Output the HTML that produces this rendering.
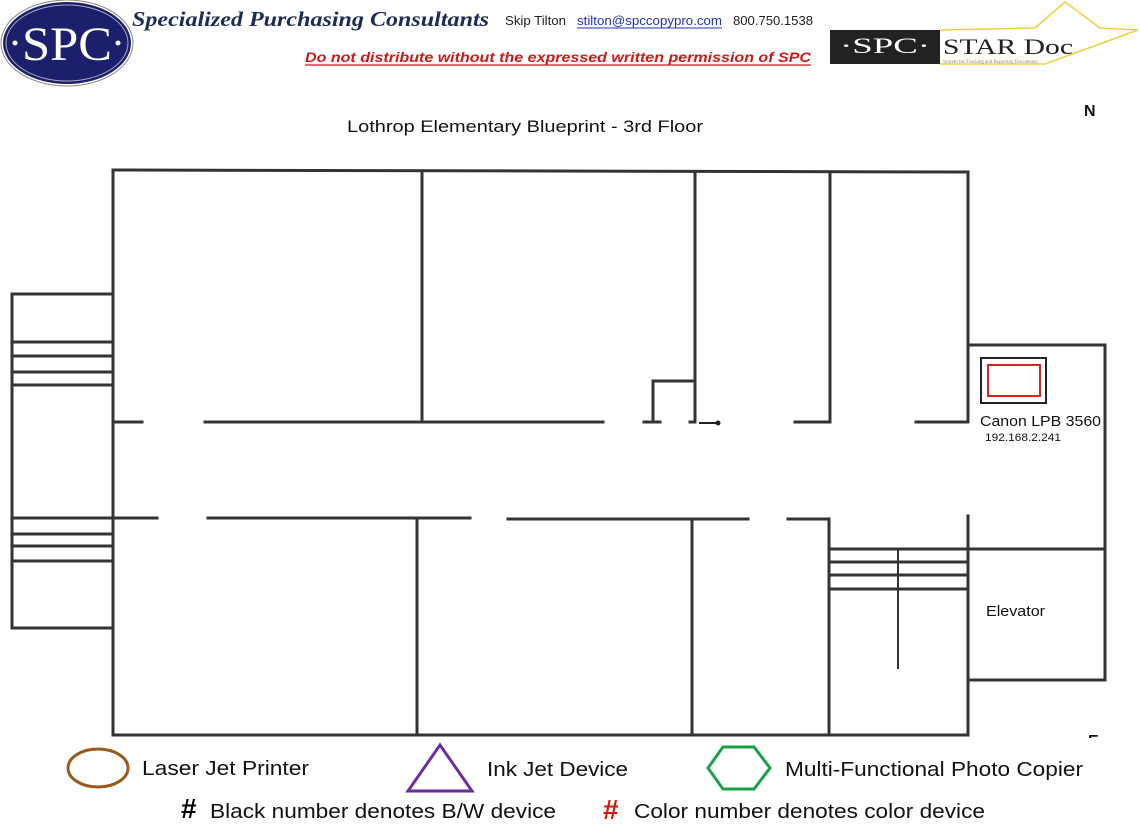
<!DOCTYPE html>
<html><head><meta charset="utf-8"><style>
html,body{margin:0;padding:0;background:#fff;}
body{width:1140px;height:828px;overflow:hidden;position:relative;font-family:"Liberation Sans",sans-serif;}
svg{position:absolute;left:0;top:0;}
</style></head><body>
<svg width="1140" height="828" viewBox="0 0 1140 828" xmlns="http://www.w3.org/2000/svg">
<defs><clipPath id="ec"><rect x="1080" y="720" width="40" height="18"/></clipPath></defs>
<ellipse cx="67" cy="43" rx="66" ry="43" fill="#fff" stroke="#888" stroke-width="1"/>
<ellipse cx="67" cy="43" rx="64" ry="41" fill="#1c1f6b"/>
<ellipse cx="67" cy="43" rx="61" ry="38" fill="none" stroke="#aab" stroke-width="1"/>
<text x="67" y="60" text-anchor="middle" font-family="Liberation Serif" font-size="48" fill="#fff" textLength="90" lengthAdjust="spacingAndGlyphs">SPC</text>
<circle cx="15" cy="43" r="2.5" fill="#fff"/><circle cx="118" cy="43" r="2.5" fill="#fff"/>
<text x="132" y="26" font-family="Liberation Serif" font-style="italic" font-weight="bold" font-size="21" fill="#1f2b55" textLength="357" lengthAdjust="spacingAndGlyphs">Specialized Purchasing Consultants</text>
<text x="505" y="25" font-size="13" fill="#222" textLength="61" lengthAdjust="spacingAndGlyphs">Skip Tilton</text>
<text x="577" y="25" font-size="13" fill="#2233bb" textLength="145" lengthAdjust="spacingAndGlyphs">stilton@spccopypro.com</text>
<line x1="577" y1="28" x2="722" y2="28" stroke="#2233bb" stroke-width="1"/>
<text x="733" y="25" font-size="13" fill="#222" textLength="80" lengthAdjust="spacingAndGlyphs">800.750.1538</text>
<text x="305" y="62" font-size="14" font-weight="bold" font-style="italic" fill="#d01818" textLength="506" lengthAdjust="spacingAndGlyphs">Do not distribute without the expressed written permission of SPC</text>
<line x1="305" y1="65" x2="811" y2="65" stroke="#d01818" stroke-width="1.2"/>
<polyline points="940,30 1035,28 1065,2 1100,28 1138,30 1045,64 940,64" fill="none" stroke="#f0d040" stroke-width="1.5"/>
<rect x="830" y="30" width="110" height="34" fill="#222"/>
<text x="885" y="53" text-anchor="middle" font-family="Liberation Serif" font-size="22" fill="#fff" textLength="90" lengthAdjust="spacingAndGlyphs">·SPC·</text>
<text x="943" y="54" font-family="Liberation Serif" font-size="22" fill="#222" textLength="130" lengthAdjust="spacingAndGlyphs">STAR Doc</text>
<text x="943" y="63" font-family="Liberation Serif" font-size="5" fill="#888">System for Tracking and Reporting Documents</text>

<text x="347" y="132" font-size="17" fill="#111" textLength="356" lengthAdjust="spacingAndGlyphs">Lothrop Elementary Blueprint - 3rd Floor</text>
<text x="1084" y="116" font-size="16" font-weight="bold" fill="#111">N</text>
<text x="1088" y="746" font-size="16" font-weight="bold" fill="#111" clip-path="url(#ec)">E</text>

<g stroke="#333" stroke-width="3" fill="none" stroke-linecap="square">
<polyline points="113,735 113,170 968,172 968,422"/>
<line x1="968" y1="516" x2="968" y2="735"/>
<line x1="113" y1="735" x2="968" y2="735"/>
<line x1="422" y1="172" x2="422" y2="422"/>
<line x1="695" y1="172" x2="695" y2="422"/>
<line x1="830" y1="172" x2="830" y2="422"/>
<line x1="113" y1="422" x2="142" y2="422"/>
<line x1="205" y1="422" x2="603" y2="422"/>
<line x1="644" y1="422" x2="660" y2="422"/>
<line x1="690" y1="422" x2="695" y2="422"/>
<line x1="795" y1="422" x2="830" y2="422"/>
<line x1="916" y1="422" x2="968" y2="422"/>
<polyline points="653,422 653,381 695,381"/>
<line x1="113" y1="518" x2="157" y2="518"/>
<line x1="208" y1="518" x2="470" y2="518"/>
<line x1="508" y1="519" x2="748" y2="519"/>
<polyline points="788,519 829,519 829,735"/>
<line x1="417" y1="518" x2="417" y2="735"/>
<line x1="692" y1="519" x2="692" y2="735"/>
<polyline points="113,294 12,294 12,628 113,628"/>
<line x1="12" y1="342" x2="113" y2="342"/>
<line x1="12" y1="356" x2="113" y2="356"/>
<line x1="12" y1="372" x2="113" y2="372"/>
<line x1="12" y1="385" x2="113" y2="385"/>
<line x1="12" y1="518" x2="113" y2="518"/>
<line x1="12" y1="534" x2="113" y2="534"/>
<line x1="12" y1="546" x2="113" y2="546"/>
<line x1="12" y1="561" x2="113" y2="561"/>
<line x1="830" y1="549" x2="968" y2="549"/>
<line x1="830" y1="562" x2="968" y2="562"/>
<line x1="830" y1="575" x2="968" y2="575"/>
<line x1="830" y1="589" x2="968" y2="589"/>
<line x1="898" y1="550" x2="898" y2="668" stroke-width="2"/>
<polyline points="968,345 1105,345 1105,680 968,680"/>
<line x1="968" y1="549" x2="1105" y2="549"/>
</g>
<line x1="699" y1="423" x2="717" y2="423" stroke="#222" stroke-width="2"/>
<circle cx="718" cy="423" r="2.5" fill="#222"/>
<rect x="981" y="358" width="65" height="45" fill="none" stroke="#222" stroke-width="2"/>
<rect x="988" y="365" width="52" height="31" fill="none" stroke="#e02020" stroke-width="2"/>
<text x="980" y="426" font-size="15" fill="#111" textLength="121" lengthAdjust="spacingAndGlyphs">Canon LPB 3560</text>
<text x="985" y="441" font-size="11" fill="#111" textLength="76" lengthAdjust="spacingAndGlyphs">192.168.2.241</text>
<text x="986" y="616" font-size="15" fill="#111" textLength="59" lengthAdjust="spacingAndGlyphs">Elevator</text>

<ellipse cx="98" cy="768" rx="30" ry="19" fill="none" stroke="#9a5a1e" stroke-width="3"/>
<text x="142" y="775" font-size="20" fill="#111" textLength="167" lengthAdjust="spacingAndGlyphs">Laser Jet Printer</text>
<polygon points="440,745 472,791 408,791" fill="none" stroke="#6a2e9e" stroke-width="3"/>
<text x="487" y="776" font-size="20" fill="#111" textLength="141" lengthAdjust="spacingAndGlyphs">Ink Jet Device</text>
<polygon points="723,747 754,747 770,768 754,789 723,789 708,768" fill="none" stroke="#1aa04a" stroke-width="3"/>
<text x="785" y="776" font-size="20" fill="#111" textLength="298" lengthAdjust="spacingAndGlyphs">Multi-Functional Photo Copier</text>
<text x="181" y="818" font-size="28" font-weight="bold" fill="#000">#</text>
<text x="210" y="818" font-size="20" fill="#111" textLength="346" lengthAdjust="spacingAndGlyphs">Black number denotes B/W device</text>
<text x="603" y="819" font-size="28" font-weight="bold" fill="#e01010">#</text>
<text x="634" y="818" font-size="20" fill="#111" textLength="351" lengthAdjust="spacingAndGlyphs">Color number denotes color device</text>
</svg>
</body></html>
